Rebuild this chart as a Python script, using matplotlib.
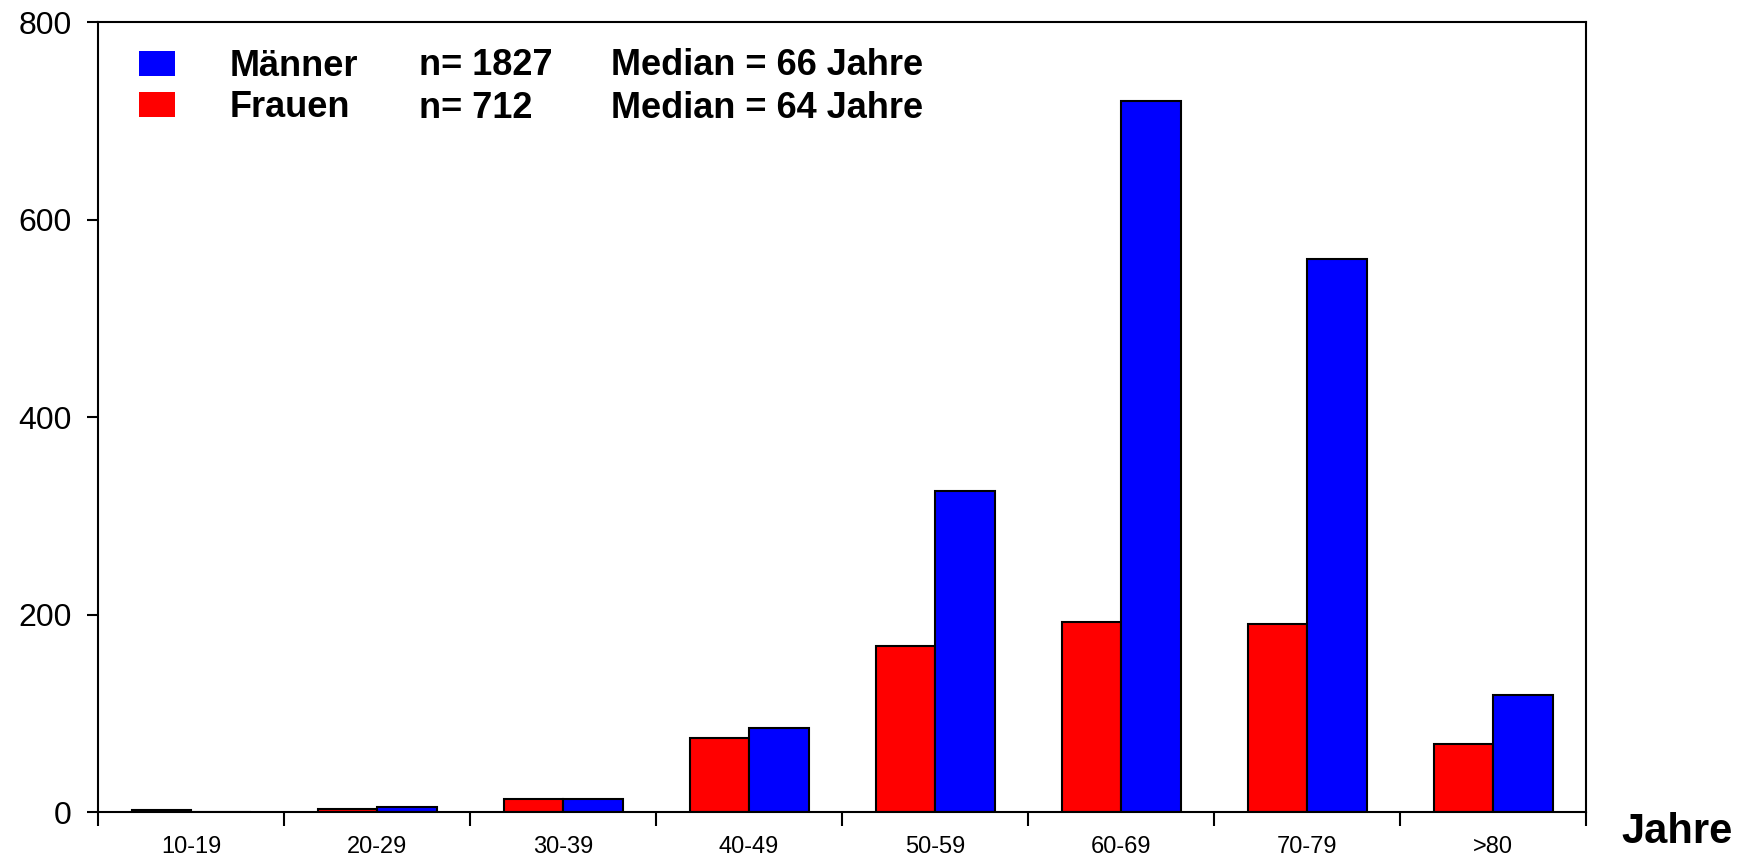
import numpy as np
import matplotlib
matplotlib.use("Agg")
import matplotlib.pyplot as plt

plt.rcParams['font.family'] = ['Liberation Sans', 'DejaVu Sans']

# age groups and counts
categories = ['10-19', '20-29', '30-39', '40-49', '50-59', '60-69', '70-79', '>80']
frauen = [2, 3, 13, 75, 168, 192, 190, 69]
maenner = [0, 5, 13, 85, 325, 720, 560, 119]

n_labels = ['n= 1827', 'n= 712']
median_labels = ['Median = 66 Jahre', 'Median = 64 Jahre']

fig = plt.figure(figsize=(17.51, 8.61), dpi=100)
ax = fig.add_axes([0.056, 0.0569, 0.8498, 0.9175])

x = np.arange(len(categories)) + 0.5
w = 0.32
b_f = ax.bar(x - w / 2, frauen, w, color='#ff0000', edgecolor='black', linewidth=1.5, label='Frauen')
b_m = ax.bar(x + w / 2, maenner, w, color='#0000ff', edgecolor='black', linewidth=1.5, label='Männer')

ax.set_xlim(0, len(categories))
ax.set_ylim(0, 800)
ax.set_yticks([0, 200, 400, 600, 800])
ax.set_xticks(np.arange(len(categories) + 1))
ax.set_xticklabels([])
ax.set_xticks(x, minor=True)
ax.set_xticklabels(categories, minor=True, fontsize=17)
ax.tick_params(axis='x', which='minor', length=0, pad=17)
ax.tick_params(axis='x', which='major', length=10, width=1.5, direction='out')
ax.tick_params(axis='y', length=8, width=1.5, labelsize=23, pad=11)
for s in ax.spines.values():
    s.set_linewidth(1.5)

# legend block
leg = ax.legend(handles=[b_m, b_f], labels=['Männer', 'Frauen'], loc='upper left',
                bbox_to_anchor=(0.0275, 0.966), frameon=False, borderpad=0, borderaxespad=0,
                prop={'weight': 'bold', 'size': 26}, handlelength=1.0, handleheight=0.7,
                handletextpad=1.5, labelspacing=0.17)
for h in leg.legend_handles:
    h.set_edgecolor('none')

rows_y = [0.945, 0.891]
for yy, nl, ml in zip(rows_y, n_labels, median_labels):
    ax.text(0.216, yy, nl, transform=ax.transAxes, fontsize=26, fontweight='bold', va='center')
    ax.text(0.345, yy, ml, transform=ax.transAxes, fontsize=26, fontweight='bold', va='center')

fig.text(0.926, 0.034, 'Jahre', fontsize=30, fontweight='bold', va='center', ha='left')

fig.savefig('out.png', dpi=100)
